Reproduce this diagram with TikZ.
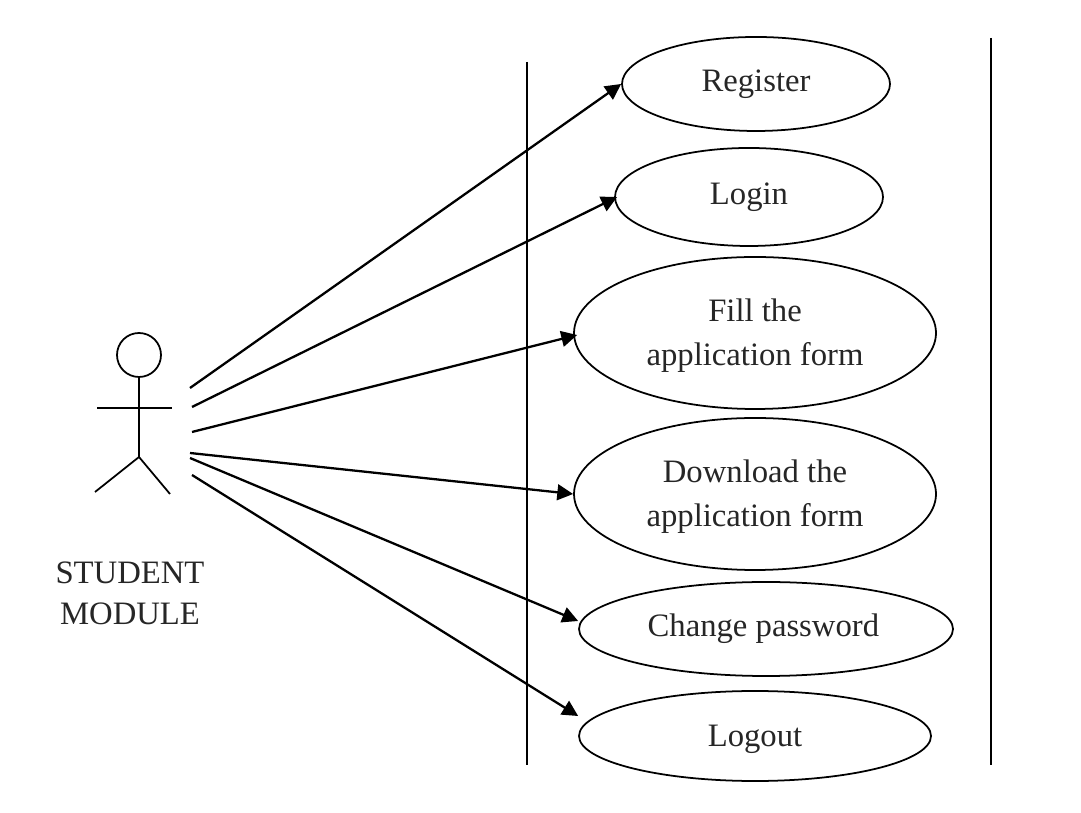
\documentclass[tikz,border=0pt]{standalone}
\usepackage{fontspec}
\setmainfont{Liberation Serif}
\usetikzlibrary{shapes.geometric}
\usetikzlibrary{arrows.meta}
\newcommand{\lowtext}{\rule{0pt}{8pt}}
\tikzset{
  usecase/.style={draw, ellipse, inner sep=0pt, align=center, line width=0.5pt, text=black!85, font=\fontsize{9.3}{12.4}\selectfont},
  assoc/.style={draw, line width=0.65pt, -{Triangle[length=4.5pt,width=4.5pt]}},
  stick/.style={draw, line width=0.5pt},
}
\begin{document}
\begin{tikzpicture}
\useasboundingbox (0,0) rectangle (10.81,8.12);
% system boundary
\coordinate (leftTop) at (5.27,7.50);
\coordinate (leftBot) at (5.27,0.47);
\coordinate (rightTop) at (9.91,7.74);
\coordinate (rightBot) at (9.91,0.47);
\draw[stick] (leftTop) -- (leftBot);
\draw[stick] (rightTop) -- (rightBot);
% use cases
\node[usecase, minimum width=2.68cm, minimum height=0.94cm] (register) at (7.56,7.28) {Register};
\node[usecase, minimum width=2.68cm, minimum height=0.98cm] (login) at (7.49,6.15) {Login};
\node[usecase, minimum width=3.62cm, minimum height=1.52cm] (fill) at (7.55,4.79) {\lowtext Fill the\\application form};
\node[usecase, minimum width=3.62cm, minimum height=1.52cm] (download) at (7.55,3.18) {\lowtext Download the\\application form};
\node[usecase, minimum width=3.74cm, minimum height=0.94cm] (change) at (7.66,1.83) {Change password\hspace{1.5pt}};
\node[usecase, minimum width=3.52cm, minimum height=0.90cm] (logout) at (7.55,0.76) {\lowtext Logout};
% actor
\node[stick, circle, minimum size=0.44cm, inner sep=0pt] (head) at (1.39,4.57) {};
\coordinate (hip) at (1.39,3.55);
\coordinate (armL) at (0.97,4.04);
\coordinate (armR) at (1.72,4.04);
\coordinate (footL) at (0.95,3.20);
\coordinate (footR) at (1.70,3.18);
\draw[stick] (head) -- (hip);
\draw[stick, line width=0.7pt] (armL) -- (armR);
\draw[stick] (footL) -- (hip) -- (footR);
\node[text=black!85, font=\fontsize{9.3}{11.6}\selectfont, align=center] (student) at (1.30,2.19) {STUDENT\\MODULE};
% associations
\coordinate (a1) at (1.90,4.24);
\coordinate (a2) at (1.92,4.05);
\coordinate (a3) at (1.92,3.80);
\coordinate (a4) at (1.90,3.59);
\coordinate (a5) at (1.90,3.54);
\coordinate (a6) at (1.92,3.37);
\draw[assoc] (a1) -- (register.west);
\draw[assoc] (a2) -- ([xshift=0.03cm]login.west);
\draw[assoc] (a3) -- ([xshift=0.04cm,yshift=-0.02cm]fill.west);
\draw[assoc] (a4) -- (download.west);
\draw[assoc] (a5) -- ([yshift=0.08cm]change.west);
\draw[assoc] (a6) -- ([yshift=0.20cm]logout.west);
\end{tikzpicture}
\end{document}
